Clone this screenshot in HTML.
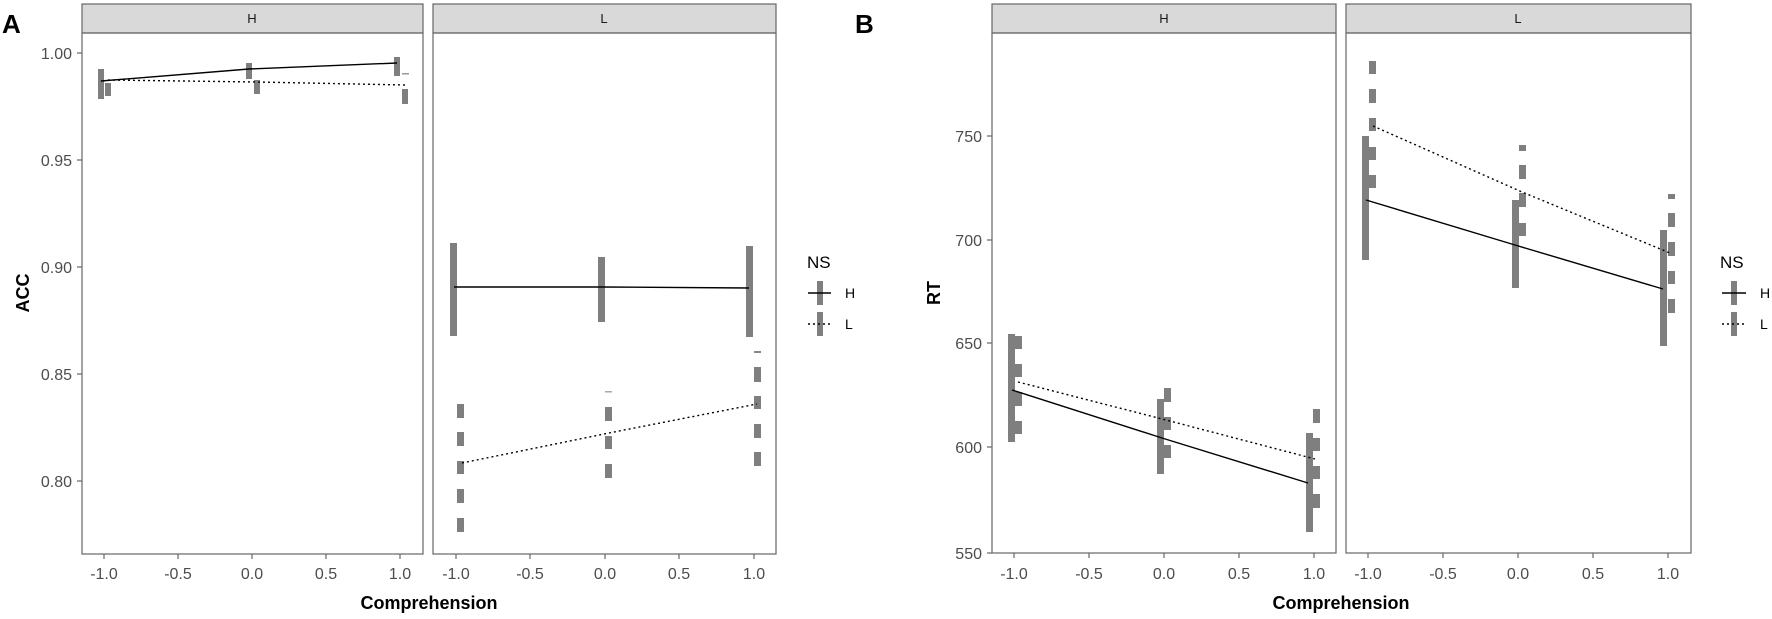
<!DOCTYPE html>
<html><head><meta charset="utf-8"><style>
html,body{margin:0;padding:0;background:#fff;}
svg{display:block;font-family:"Liberation Sans",Arial,sans-serif;}
.tk{font-size:16px;fill:#4d4d4d;}
.ttl{font-size:18px;font-weight:bold;fill:#000;}
.st{font-size:13px;fill:#1a1a1a;}
.b{fill:#7f7f7f;}
.sl{stroke:#000;stroke-width:1.4;fill:none;}
.dl{stroke:#000;stroke-width:1.4;fill:none;stroke-dasharray:2,3;}
.fr{fill:none;stroke:#666;stroke-width:1.2;}
.sf{fill:#d9d9d9;stroke:#666;stroke-width:1.2;}
.ax{stroke:#666;stroke-width:1.2;}
</style></head><body>
<svg width="1772" height="619" viewBox="0 0 1772 619">
<text x="2" y="33" font-size="26" font-weight="bold">A</text>
<text x="855" y="33" font-size="26" font-weight="bold">B</text>

<!-- ===== A-H ===== -->
<rect class="sf" x="82" y="4" width="341" height="29"/>
<text class="st" x="252" y="23" text-anchor="middle">H</text>
<rect class="fr" x="82" y="33" width="341" height="521"/>
<rect class="b" x="98" y="69" width="6" height="30"/>
<rect class="b" x="105" y="83" width="6" height="13"/>
<rect class="b" x="246" y="63" width="6" height="16"/>
<rect class="b" x="254" y="80" width="6" height="14"/>
<rect class="b" x="394" y="57" width="6" height="19"/>
<rect x="402" y="73" width="7" height="1.5" fill="#999"/>
<rect class="b" x="402" y="89" width="6" height="15"/>
<polyline class="sl" points="101,81 249,69 397,63"/>
<polyline class="dl" points="108,80 257,82 405,85"/>

<!-- ===== A-L ===== -->
<rect class="sf" x="433" y="4" width="343" height="29"/>
<text class="st" x="604" y="23" text-anchor="middle">L</text>
<rect class="fr" x="433" y="33" width="343" height="521"/>
<rect class="b" x="450" y="243" width="7" height="93"/>
<rect class="b" x="598" y="257" width="7" height="65"/>
<rect class="b" x="746" y="246" width="7" height="91"/>
<rect class="b" x="457" y="404" width="7" height="14"/>
<rect class="b" x="457" y="432" width="7" height="14"/>
<rect class="b" x="457" y="461" width="7" height="13"/>
<rect class="b" x="457" y="489" width="7" height="14"/>
<rect class="b" x="457" y="518" width="7" height="14"/>
<rect x="605" y="391" width="7" height="1.5" fill="#aaa"/>
<rect class="b" x="605" y="407" width="7" height="14"/>
<rect class="b" x="605" y="436" width="7" height="13"/>
<rect class="b" x="605" y="464" width="7" height="14"/>
<rect x="754" y="351" width="7" height="2" fill="#888"/>
<rect class="b" x="754" y="367" width="7" height="15"/>
<rect class="b" x="754" y="396" width="7" height="13"/>
<rect class="b" x="754" y="424" width="7" height="14"/>
<rect class="b" x="754" y="452" width="7" height="14"/>
<polyline class="sl" points="454,287 602,287 749,288"/>
<polyline class="dl" points="462,463 609,433 757,404"/>

<g class="tk" text-anchor="end">
<text x="72" y="59">1.00</text>
<text x="72" y="166">0.95</text>
<text x="72" y="273">0.90</text>
<text x="72" y="380">0.85</text>
<text x="72" y="487">0.80</text>
</g>
<g class="ax">
<line x1="77" y1="53" x2="82" y2="53"/><line x1="77" y1="160" x2="82" y2="160"/>
<line x1="77" y1="267" x2="82" y2="267"/><line x1="77" y1="374" x2="82" y2="374"/>
<line x1="77" y1="481" x2="82" y2="481"/>
<line x1="104" y1="554" x2="104" y2="559"/><line x1="178" y1="554" x2="178" y2="559"/>
<line x1="252" y1="554" x2="252" y2="559"/><line x1="326" y1="554" x2="326" y2="559"/>
<line x1="400" y1="554" x2="400" y2="559"/>
<line x1="456" y1="554" x2="456" y2="559"/><line x1="530" y1="554" x2="530" y2="559"/>
<line x1="605" y1="554" x2="605" y2="559"/><line x1="679" y1="554" x2="679" y2="559"/>
<line x1="754" y1="554" x2="754" y2="559"/>
</g>
<g class="tk" text-anchor="middle">
<text x="104" y="579">-1.0</text><text x="178" y="579">-0.5</text><text x="252" y="579">0.0</text>
<text x="326" y="579">0.5</text><text x="400" y="579">1.0</text>
<text x="456" y="579">-1.0</text><text x="530" y="579">-0.5</text><text x="605" y="579">0.0</text>
<text x="679" y="579">0.5</text><text x="754" y="579">1.0</text>
</g>
<text class="ttl" x="429" y="609" text-anchor="middle">Comprehension</text>
<text class="ttl" x="0" y="0" text-anchor="middle" transform="translate(29,293) rotate(-90)">ACC</text>

<text x="807" y="268" font-size="17">NS</text>
<rect class="b" x="817" y="281" width="6" height="24"/>
<line x1="808" y1="293" x2="831" y2="293" stroke="#000" stroke-width="1.4"/>
<text x="845" y="298" font-size="14">H</text>
<rect class="b" x="817" y="312" width="6" height="24"/>
<line x1="808" y1="324" x2="831" y2="324" stroke="#000" stroke-width="1.4" stroke-dasharray="2,3"/>
<text x="845" y="329" font-size="14">L</text>

<!-- ===== B-H ===== -->
<rect class="sf" x="992" y="4" width="344" height="29"/>
<text class="st" x="1164" y="23" text-anchor="middle">H</text>
<rect class="fr" x="992" y="33" width="344" height="520"/>
<rect class="b" x="1008" y="334" width="7" height="108"/>
<rect class="b" x="1015" y="336" width="7" height="13"/>
<rect class="b" x="1015" y="364" width="7" height="13"/>
<rect class="b" x="1015" y="392" width="7" height="14"/>
<rect class="b" x="1015" y="421" width="7" height="13"/>
<rect class="b" x="1157" y="399" width="7" height="75"/>
<rect class="b" x="1164" y="388" width="7" height="14"/>
<rect class="b" x="1164" y="417" width="7" height="13"/>
<rect class="b" x="1164" y="445" width="7" height="13"/>
<rect class="b" x="1306" y="433" width="7" height="99"/>
<rect class="b" x="1313" y="409" width="7" height="14"/>
<rect class="b" x="1313" y="438" width="7" height="13"/>
<rect class="b" x="1313" y="466" width="7" height="13"/>
<rect class="b" x="1313" y="494" width="7" height="14"/>
<polyline class="sl" points="1012,390 1162,438 1308,483"/>
<polyline class="dl" points="1018,382 1166,420 1315,459"/>

<!-- ===== B-L ===== -->
<rect class="sf" x="1346" y="4" width="345" height="29"/>
<text class="st" x="1518" y="23" text-anchor="middle">L</text>
<rect class="fr" x="1346" y="33" width="345" height="520"/>
<rect class="b" x="1362" y="136" width="7" height="124"/>
<rect class="b" x="1369" y="61" width="7" height="13"/>
<rect class="b" x="1369" y="89" width="7" height="14"/>
<rect class="b" x="1369" y="118" width="7" height="13"/>
<rect class="b" x="1369" y="147" width="7" height="13"/>
<rect class="b" x="1369" y="175" width="7" height="13"/>
<rect class="b" x="1512" y="200" width="7" height="88"/>
<rect class="b" x="1519" y="145" width="7" height="6"/>
<rect class="b" x="1519" y="165" width="7" height="14"/>
<rect class="b" x="1519" y="193" width="7" height="14"/>
<rect class="b" x="1519" y="223" width="7" height="13"/>
<rect class="b" x="1660" y="230" width="7" height="116"/>
<rect class="b" x="1668" y="194" width="7" height="5"/>
<rect class="b" x="1668" y="213" width="7" height="14"/>
<rect class="b" x="1668" y="242" width="7" height="14"/>
<rect class="b" x="1668" y="271" width="7" height="13"/>
<rect class="b" x="1668" y="299" width="7" height="14"/>
<polyline class="sl" points="1366,200 1515,245 1663,289"/>
<polyline class="dl" points="1373,126 1522,192 1670,253"/>

<g class="tk" text-anchor="end">
<text x="982" y="559">550</text>
<text x="982" y="453">600</text>
<text x="982" y="349">650</text>
<text x="982" y="246">700</text>
<text x="982" y="142">750</text>
</g>
<g class="ax">
<line x1="987" y1="553" x2="992" y2="553"/><line x1="987" y1="447" x2="992" y2="447"/>
<line x1="987" y1="343" x2="992" y2="343"/><line x1="987" y1="240" x2="992" y2="240"/>
<line x1="987" y1="136" x2="992" y2="136"/>
<line x1="1014" y1="553" x2="1014" y2="558"/><line x1="1089" y1="553" x2="1089" y2="558"/>
<line x1="1164" y1="553" x2="1164" y2="558"/><line x1="1239" y1="553" x2="1239" y2="558"/>
<line x1="1314" y1="553" x2="1314" y2="558"/>
<line x1="1368" y1="553" x2="1368" y2="558"/><line x1="1443" y1="553" x2="1443" y2="558"/>
<line x1="1518" y1="553" x2="1518" y2="558"/><line x1="1593" y1="553" x2="1593" y2="558"/>
<line x1="1668" y1="553" x2="1668" y2="558"/>
</g>
<g class="tk" text-anchor="middle">
<text x="1014" y="579">-1.0</text><text x="1089" y="579">-0.5</text><text x="1164" y="579">0.0</text>
<text x="1239" y="579">0.5</text><text x="1314" y="579">1.0</text>
<text x="1368" y="579">-1.0</text><text x="1443" y="579">-0.5</text><text x="1518" y="579">0.0</text>
<text x="1593" y="579">0.5</text><text x="1668" y="579">1.0</text>
</g>
<text class="ttl" x="1341" y="609" text-anchor="middle">Comprehension</text>
<text class="ttl" x="0" y="0" text-anchor="middle" transform="translate(940,293) rotate(-90)">RT</text>

<text x="1720" y="268" font-size="17">NS</text>
<rect class="b" x="1731" y="281" width="6" height="24"/>
<line x1="1722" y1="293" x2="1746" y2="293" stroke="#000" stroke-width="1.4"/>
<text x="1760" y="298" font-size="14">H</text>
<rect class="b" x="1731" y="312" width="6" height="24"/>
<line x1="1722" y1="324" x2="1746" y2="324" stroke="#000" stroke-width="1.4" stroke-dasharray="2,3"/>
<text x="1760" y="329" font-size="14">L</text>
</svg>
</body></html>
